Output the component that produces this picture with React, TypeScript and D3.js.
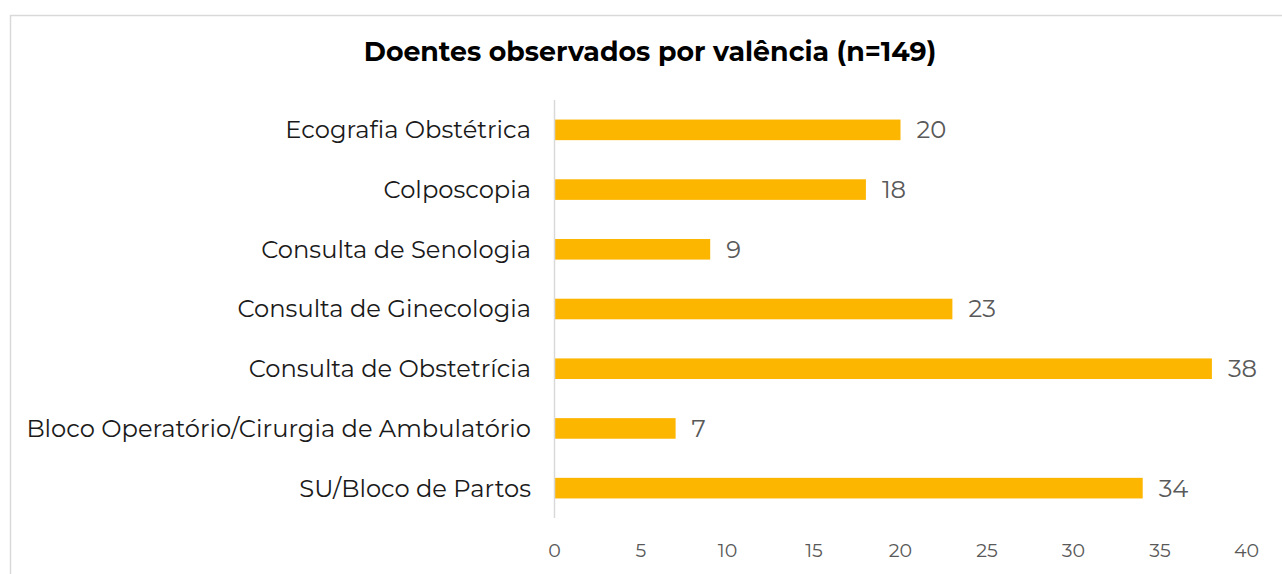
import React from "react";
import * as d3 from "d3";

const categories = [
  "Ecografia Obstétrica",
  "Colposcopia",
  "Consulta de Senologia",
  "Consulta de Ginecologia",
  "Consulta de Obstetrícia",
  "Bloco Operatório/Cirurgia de Ambulatório",
  "SU/Bloco de Partos",
];
const values = [20, 18, 9, 23, 38, 7, 34];
const xTicks = [0, 5, 10, 15, 20, 25, 30, 35, 40];
const title = "Doentes observados por valência (n=149)";

const W = 1282;
const H = 574;
const FONT = "Montserrat, 'Open Sans', Lato, sans-serif";

export default function App() {
  const x = d3.scaleLinear().domain([0, 40]).range([554.5, 1246.5]);
  const y = d3
    .scaleBand<string>()
    .domain(categories)
    .range([100, 518])
    .paddingInner(0.655)
    .paddingOuter(0.3275);

  return (
    <svg
      width={W}
      height={H}
      style={{ position: "fixed", left: 0, top: 0, background: "#fff" }}
      fontFamily={FONT}
    >
      <rect x={0} y={0} width={W} height={H} fill="#fff" />
      <rect
        x={10.5}
        y={15.5}
        width={1400}
        height={700}
        fill="#fff"
        stroke="#d9d9d9"
        strokeWidth={1.5}
      />
      <text
        x={650}
        y={61}
        textAnchor="middle"
        fontSize={26.8}
        fontWeight={700}
        fill="#000"
      >
        {title}
      </text>
      {categories.map((c, i) => (
        <g key={c}>
          <rect
            x={x(0)}
            y={y(c)!}
            width={x(values[i]) - x(0)}
            height={y.bandwidth()}
            fill="#FDB600"
          />
          <text
            x={x(values[i]) + 16}
            y={y(c)! + y.bandwidth() / 2}
            dy="0.35em"
            fontSize={24.2}
            fill="#595959"
          >
            {values[i]}
          </text>
          <text
            x={531}
            y={y(c)! + y.bandwidth() / 2}
            dy="0.35em"
            textAnchor="end"
            fontSize={24.2}
            fill="#1a1a1a"
          >
            {c}
          </text>
        </g>
      ))}
      <line x1={x(0)} x2={x(0)} y1={100} y2={518} stroke="#d9d9d9" strokeWidth={1.5} />
      {xTicks.map((t) => (
        <text
          key={t}
          x={x(t)}
          y={550}
          dy="0.35em"
          textAnchor="middle"
          fontSize={19}
          fill="#595959"
        >
          {t}
        </text>
      ))}
    </svg>
  );
}
